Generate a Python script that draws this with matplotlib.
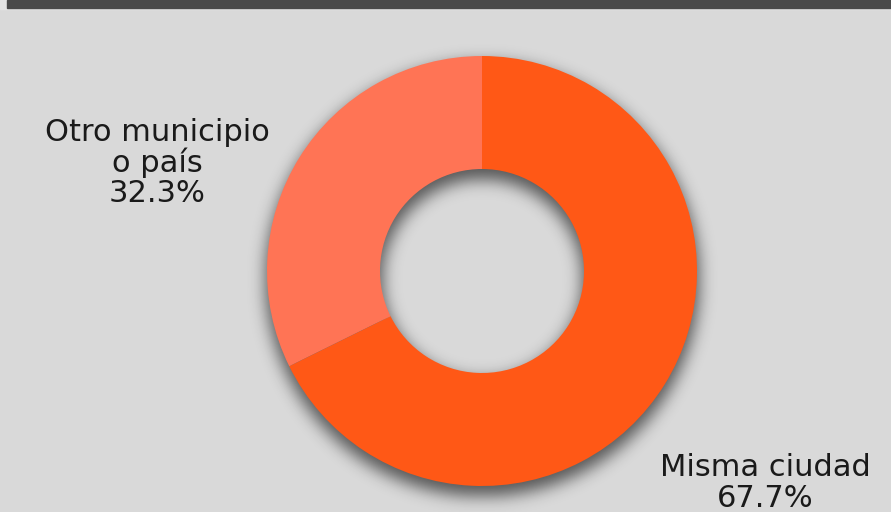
import numpy as np
import matplotlib
matplotlib.use("Agg")
import matplotlib.pyplot as plt
from matplotlib.patches import Rectangle

# ─────────────────────────────────────────────
# DATA
# ─────────────────────────────────────────────
labels = ["Misma ciudad", "Otro municipio\no país"]
shares = [67.7, 32.3]
colors = ["#FF5816", "#FF7455"]

W, H = 891, 512
BG = "#D9D9D9"
CX, CY = 482, 271          # donut centre, pixel coords from top
R_OUT, R_IN = 215, 102

plt.rcParams["font.family"] = ["DejaVu Sans"]

fig = plt.figure(figsize=(W / 100, H / 100), dpi=100, facecolor=BG)
ax = fig.add_axes([0, 0, 1, 1])
ax.set_xlim(0, W)
ax.set_ylim(0, H)
ax.set_aspect("equal")
ax.axis("off")

# top bar
ax.add_patch(Rectangle((0, H - 9), W, 9, color="#E4E4E4", zorder=1))
ax.add_patch(Rectangle((7, H - 8), W, 8, color="#4A4A4A", zorder=2))

# ─────────────────────────────────────────────
# SHADOW (blurred ring, shifted down)
# ─────────────────────────────────────────────
yy, xx = np.mgrid[0:H, 0:W]
d = np.hypot(xx - CX, yy - (CY + 8))
mask = ((d <= R_OUT + 2) & (d >= R_IN - 2)).astype(float)

def blur(a, sigma):
    k = np.arange(-3 * sigma, 3 * sigma + 1)
    g = np.exp(-k**2 / (2 * sigma**2))
    g /= g.sum()
    a = np.apply_along_axis(lambda r: np.convolve(r, g, mode="same"), 1, a)
    a = np.apply_along_axis(lambda c: np.convolve(c, g, mode="same"), 0, a)
    return a

alpha = blur(mask, 8) * 0.6
shadow = np.zeros((H, W, 4))
shadow[..., 3] = alpha
ax.imshow(shadow, extent=(0, W, 0, H), origin="upper", zorder=3,
          interpolation="bilinear")

# ─────────────────────────────────────────────
# DONUT
# ─────────────────────────────────────────────
ax.pie(shares, colors=colors, startangle=90, counterclock=False,
       radius=R_OUT, center=(CX, H - CY),
       wedgeprops=dict(width=R_OUT - R_IN, linewidth=0), frame=True)
ax.set_xlim(0, W)
ax.set_ylim(0, H)
ax.axis("off")
for p in ax.patches[2:]:
    p.set_zorder(4)

# labels
txt = dict(ha="center", va="center", fontsize=22, color="#1A1A1A",
           linespacing=1.05, zorder=5)
ax.text(157, H - 163, f"{labels[1]}\n{shares[1]:.1f}%", **txt)
ax.text(765, H - 483, f"{labels[0]}\n{shares[0]:.1f}%", **txt)

fig.savefig("out.png", dpi=100, facecolor=BG)
